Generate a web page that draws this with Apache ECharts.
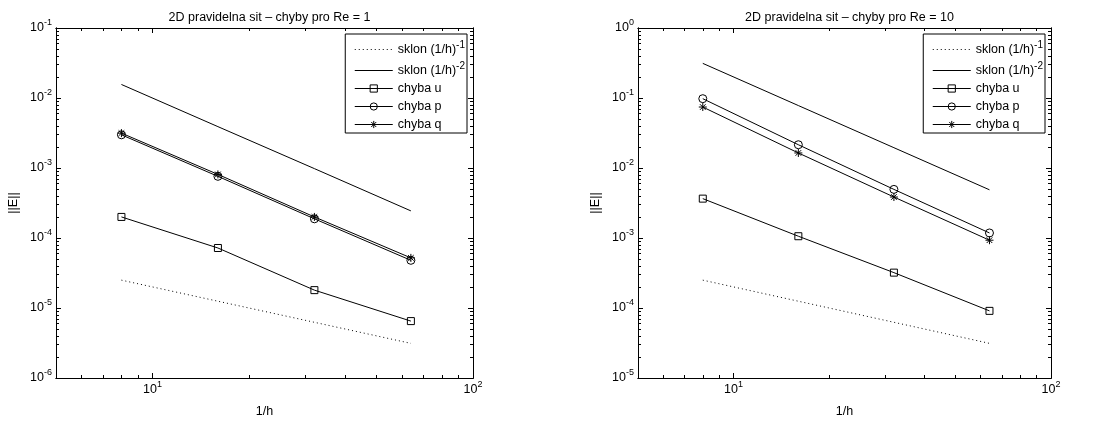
<!DOCTYPE html>
<html><head><meta charset="utf-8">
<script src="https://cdn.jsdelivr.net/npm/echarts@6/dist/echarts.min.js"></script>
<style>html,body{margin:0;padding:0;background:#fff}#c{width:1106px;height:423px}</style>
</head><body><div id="c"></div>
<script>
// ---- data ----
const xValues = [8, 16, 32, 64];
const L_slope1 = [2.5e-5, 1.25e-5, 6.25e-6, 3.125e-6];
const L_slope2 = [0.0156, 0.0039, 0.00098, 0.000244];
const L_u = [2.0e-4, 7.2e-5, 1.8e-5, 6.5e-6];
const L_p = [2.98e-3, 7.6e-4, 1.88e-4, 4.8e-5];
const L_q = [3.15e-3, 8.1e-4, 2.0e-4, 5.2e-5];
const R_slope1 = [2.5e-4, 1.25e-4, 6.25e-5, 3.125e-5];
const R_slope2 = [0.3125, 0.078, 0.0195, 0.00488];
const R_u = [3.65e-3, 1.06e-3, 3.2e-4, 9.1e-5];
const R_p = [0.0978, 0.0215, 4.95e-3, 1.18e-3];
const R_q = [0.0743, 0.0164, 3.85e-3, 9.3e-4];
const titles = ['2D pravidelna sit \u2013 chyby pro Re = 1', '2D pravidelna sit \u2013 chyby pro Re = 10'];
const seriesNames = ['sklon (1/h)^-1', 'sklon (1/h)^-2', 'chyba u', 'chyba p', 'chyba q'];
const xTickLabels = [10, 100];
const yTickLabelsL = [1e-6, 1e-5, 1e-4, 1e-3, 1e-2, 1e-1];
const yTickLabelsR = [1e-5, 1e-4, 1e-3, 1e-2, 1e-1, 1];
const xRange = [5, 100];
const yRangeL = [1e-6, 1e-1];
const yRangeR = [1e-5, 1];

// ---- helpers ----
const FONT = '"Liberation Sans", Arial, Helvetica, sans-serif';
const FS = 12.5;
const LFS = 12.5;
const axisRich = {
  b: {fontSize: FS, lineHeight: 19, fontFamily: FONT, color: '#000'},
  sup: {fontSize: 9, lineHeight: 9, verticalAlign: 'top', fontFamily: FONT, color: '#000'}
};
const legendRich = {
  b: {fontSize: LFS, lineHeight: 19, fontFamily: FONT, color: '#000'},
  sup: {fontSize: 10, lineHeight: 8, verticalAlign: 'top', fontFamily: FONT, color: '#000'},
  c: {fontSize: LFS, lineHeight: 15, fontFamily: FONT, color: '#000'}
};
function powLabel(v) {
  const e = Math.round(Math.log10(v));
  if (Math.abs(Math.log10(v) - e) > 1e-6) return '';
  return '{b|10}{sup|' + e + '}';
}
function minorTicks(lo, hi) {
  const out = [];
  for (let e = Math.floor(Math.log10(lo)); e <= Math.ceil(Math.log10(hi)); e++) {
    for (let m = 2; m <= 9; m++) {
      const v = +(m * Math.pow(10, e)).toPrecision(6);
      if (v > lo * 1.0001 && v < hi * 0.9999) out.push(v);
    }
  }
  return out;
}
function legendFmt(name) {
  const i = name.indexOf('^');
  if (i < 0) return '{c|' + name + '}';
  return '{b|' + name.slice(0, i) + '}{sup|' + name.slice(i + 1) + '}';
}

const grids = [
  {left: 56, top: 28, width: 417, height: 353},
  {left: 638, top: 28, width: 413, height: 353}
];
const yRanges = [yRangeL, yRangeR];
const yMajors = [yTickLabelsL, yTickLabelsR];
const dataSets = [
  [L_slope1, L_slope2, L_u, L_p, L_q],
  [R_slope1, R_slope2, R_u, R_p, R_q]
];
const ASTERISK = 'path://M5,0L5,10M0,5L10,5M1.5,1.5L8.5,8.5M8.5,1.5L1.5,8.5';
const styles = [
  {symbol: 'none', lineType: [1, 3]},
  {symbol: 'none', lineType: 'solid'},
  {symbol: 'rect', size: 7, lineType: 'solid'},
  {symbol: 'circle', size: 8, lineType: 'solid'},
  {symbol: ASTERISK, size: 8, lineType: 'solid'}
];
const legendData = seriesNames.map((n, i) => {
  const st = styles[i];
  if (st.symbol === 'none') {
    return {name: n, icon: 'line',
      itemStyle: {color: '#000', borderColor: '#000', borderWidth: 1, borderType: st.lineType}};
  }
  return {name: n,
    itemStyle: {color: 'rgba(0,0,0,0)', borderColor: '#000', borderWidth: 1, borderType: 'solid'},
    lineStyle: {color: '#000', width: 1, type: 'solid'}};
});

const xAxes = [], yAxes = [], series = [], titleOpts = [], legends = [];
const axisLine = {show: true, lineStyle: {color: '#000', width: 1}};
grids.forEach((g, gi) => {
  const base = gi * 4;
  const xMinor = minorTicks(xRange[0], xRange[1]);
  const yMinor = minorTicks(yRanges[gi][0], yRanges[gi][1]);
  const mk = (pos, ticks, len, labels, name) => {
    const isX = (pos === 'bottom' || pos === 'top');
    return {
      type: 'log', logBase: 10, gridIndex: gi, position: pos,
      min: isX ? xRange[0] : yRanges[gi][0],
      max: isX ? xRange[1] : yRanges[gi][1],
      axisLine: axisLine,
      splitLine: {show: false},
      axisTick: {show: true, inside: true, length: len, customValues: ticks, lineStyle: {color: '#000', width: 1}},
      axisLabel: labels ? {show: true, customValues: labels, formatter: powLabel, rich: axisRich, margin: isX ? 2 : 4} : {show: false},
      name: name || '',
      nameLocation: 'middle',
      nameGap: isX ? 27 : 36,
      nameRotate: isX ? 0 : 90,
      nameTextStyle: {fontSize: FS, fontFamily: FONT, color: '#000'}
    };
  };
  xAxes.push(mk('bottom', xTickLabels, 5, xTickLabels, '1/h'));
  xAxes.push(mk('bottom', xMinor, 3, null));
  xAxes.push(mk('top', xTickLabels, 5, null));
  xAxes.push(mk('top', xMinor, 3, null));
  yAxes.push(mk('left', yMajors[gi], 5, yMajors[gi], '||E||'));
  yAxes.push(mk('left', yMinor, 3, null));
  yAxes.push(mk('right', yMajors[gi], 5, null));
  yAxes.push(mk('right', yMinor, 3, null));

  const ds = dataSets[gi];
  ds.forEach((vals, si) => {
    const st = styles[si];
    series.push({
      type: 'line', name: seriesNames[si], xAxisIndex: base, yAxisIndex: base,
      data: xValues.map((x, k) => [x, vals[k]]),
      symbol: st.symbol, symbolSize: st.size || 0, showSymbol: st.symbol !== 'none',
      lineStyle: {color: '#000', width: 1, type: st.lineType},
      itemStyle: {color: 'rgba(0,0,0,0)', borderColor: '#000', borderWidth: 1},
      emphasis: {disabled: true},
      silent: true, animation: false, z: 2 + si
    });
  });
  titleOpts.push({
    text: titles[gi], left: g.left + g.width / 2, top: 6, textAlign: 'center',
    textStyle: {fontSize: FS, fontWeight: 'normal', fontFamily: FONT, color: '#000'}
  });
  legends.push({
    orient: 'vertical',
    right: 1106 - (g.left + g.width) + 6, top: 34,
    data: legendData,
    itemWidth: 38, itemHeight: 9, itemGap: 5,
    padding: [6, 2, 2, 9],
    borderColor: '#000', borderWidth: 1, backgroundColor: '#fff',
    selectedMode: false,
    formatter: legendFmt,
    itemStyle: {borderWidth: 1},
    lineStyle: {width: 1},
    textStyle: {fontSize: LFS, fontFamily: FONT, color: '#000', rich: legendRich}
  });
});

const chart = echarts.init(document.getElementById('c'), null, {renderer: 'canvas'});
chart.setOption({
  animation: false,
  backgroundColor: '#fff',
  title: titleOpts,
  legend: legends,
  grid: grids.map(g => Object.assign({show: false, containLabel: false}, g)),
  xAxis: xAxes,
  yAxis: yAxes,
  series: series
});
</script>
</body></html>
